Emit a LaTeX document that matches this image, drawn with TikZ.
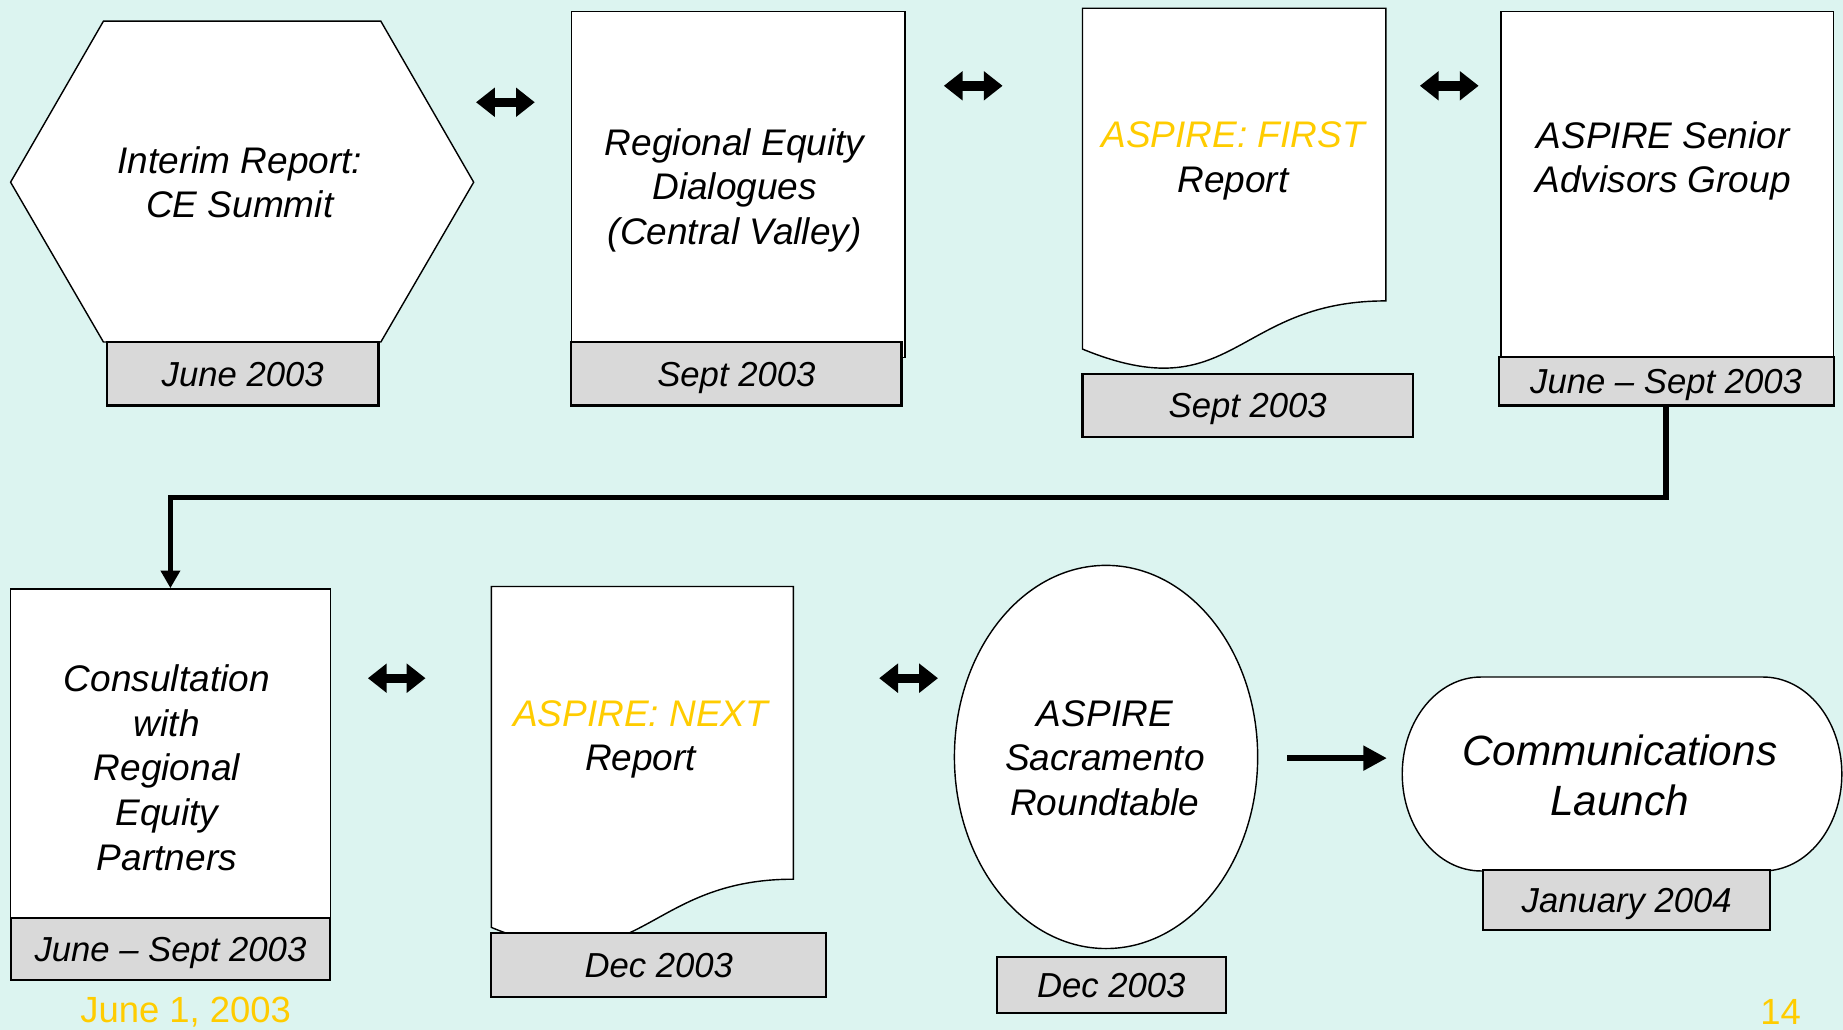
\documentclass[tikz,border=0pt]{standalone}
\usepackage{fontspec}
\setmainfont{Liberation Sans}
\usetikzlibrary{arrows.meta,shapes.geometric}
\definecolor{bgcyan}{RGB}{220,244,240}
\definecolor{dategray}{RGB}{217,217,217}
\definecolor{aspyellow}{RGB}{255,204,0}
\begin{document}
\begin{tikzpicture}[x=1pt, y=-1pt,
    outline/.style={draw=black, fill=white, line width=1.2pt},
    panel/.style={outline, inner sep=0pt},
    datebox/.style={draw=black, fill=dategray, line width=1.8pt, inner sep=0pt,
        text height=21pt, text depth=0pt,
        font=\fontsize{29.5}{34}\selectfont\itshape},
    txt/.style={align=center, inner sep=0pt, font=\fontsize{31.5}{38}\selectfont\itshape},
    twoway/.style={line width=8pt, {Triangle[length=16pt,width=24pt]}-{Triangle[length=16pt,width=24pt]}},
    flow/.style={line width=4.5pt, -{Triangle[length=15pt,width=16pt]}},
    footer/.style={text=aspyellow, inner sep=0pt, font=\fontsize{31}{36}\selectfont}]

    % fond de page
    \fill[bgcyan] (0,0) rectangle (1568,876);
    \useasboundingbox (0,0) rectangle (1568,876);

    % Etape 1 : hexagone
    \draw[outline] (9,155) -- (88,18) -- (324,18) -- (403,155) -- (324,291) -- (88,291) -- cycle;
    \node[txt] (hex) at (204,155) {Interim Report:\\CE Summit};
    \node[datebox, minimum width=231pt, minimum height=54pt] (dt1) at (206.5,318) {June 2003};

    % Etape 2 : dialogues
    \node[panel, minimum width=284pt, minimum height=294pt] (b2) at (628,157) {};
    \node[txt] (t2) at (625,162) {Regional Equity\\Dialogues\\(Central Valley)};
    \node[datebox, minimum width=281pt, minimum height=54pt] (dt2) at (626.5,318) {Sept 2003};

    % Etape 3 : document FIRST
    \draw[outline] (921,7) -- (1179,7) -- (1179,256)
        .. controls (1050,256) and (1050,350) .. (921,297) -- cycle;
    \node[txt] (d3) at (1049,137) {\textcolor{aspyellow}{ASPIRE: FIRST}\\Report};
    \node[datebox, minimum width=281pt, minimum height=54pt] (dt3) at (1061.5,345) {Sept 2003};

    % Etape 4 : senior advisors
    \node[panel, minimum width=283pt, minimum height=294pt] (b4) at (1418.5,157) {};
    \node[txt] (t4) at (1415,137) {ASPIRE Senior\\Advisors Group};
    \node[datebox, minimum width=285pt, minimum height=41pt] (dt4) at (1417.5,324.5) {June -- Sept 2003};

    % Fleches doubles en haut
    \coordinate (a1w) at (405,87);  \coordinate (a1e) at (455,87);
    \coordinate (a2w) at (803,73);  \coordinate (a2e) at (853,73);
    \coordinate (a3w) at (1208,73); \coordinate (a3e) at (1258,73);
    \draw[twoway] (a1w) -- (a1e);
    \draw[twoway] (a2w) -- (a2e);
    \draw[twoway] (a3w) -- (a3e);

    % Etape 5 : consultation
    \node[panel, minimum width=272pt, minimum height=280pt] (b5) at (145,641) {};
    \node[txt] (t5) at (142,653) {Consultation\\with\\Regional\\Equity\\Partners};
    \node[datebox, minimum width=272pt, minimum height=53pt] (dt5) at (145,807.5) {June -- Sept 2003};

    % Liaison entre les deux rangees
    \coordinate (turn) at (1417.5,423);
    \draw[flow] (dt4.south) -- (turn) -| (b5.north);

    % Etape 6 : document NEXT
    \draw[outline] (418,499) -- (675,499) -- (675,748)
        .. controls (546,748) and (546,842) .. (418,789) -- cycle;
    \node[txt] (d6) at (545,629) {\textcolor{aspyellow}{ASPIRE: NEXT}\\Report};
    \node[datebox, minimum width=285pt, minimum height=54pt] (dt6) at (560.5,821) {Dec 2003};

    % Etape 7 : table ronde
    \node[ellipse, panel, minimum width=258pt, minimum height=326pt] (ell) at (941,644) {};
    \node[txt] (t7) at (940,645) {ASPIRE\\Sacramento\\Roundtable};
    \node[datebox, minimum width=195pt, minimum height=48pt] (dt7) at (945.5,838) {Dec 2003};

    % Fleches doubles en bas
    \coordinate (a4w) at (313,577); \coordinate (a4e) at (362,577);
    \coordinate (a5w) at (748,577); \coordinate (a5e) at (798,577);
    \draw[twoway] (a4w) -- (a4e);
    \draw[twoway] (a5w) -- (a5e);

    % Etape 8 : lancement
    \draw[outline] (1260,576) -- (1500,576)
        arc[start angle=90, end angle=-90, x radius=67pt, y radius=82.5pt] -- (1260,741)
        arc[start angle=270, end angle=90, x radius=67pt, y radius=82.5pt] -- cycle;
    \node[txt, font=\fontsize{36}{43}\selectfont\itshape] (comm) at (1378,659.5) {Communications\\Launch};
    \node[datebox, minimum width=244pt, minimum height=51pt] (dt8) at (1384,765.5) {January 2004};
    \coordinate (go) at (1095,645);
    \coordinate (stop) at (1180,645);
    \draw[line width=5pt, -{Triangle[length=20pt,width=20pt]}] (go) -- (stop);

    % Pied de page
    \node[footer] (when) at (158,861) {June 1, 2003};
    \node[footer] (page) at (1515,861) {14};
\end{tikzpicture}
\end{document}
